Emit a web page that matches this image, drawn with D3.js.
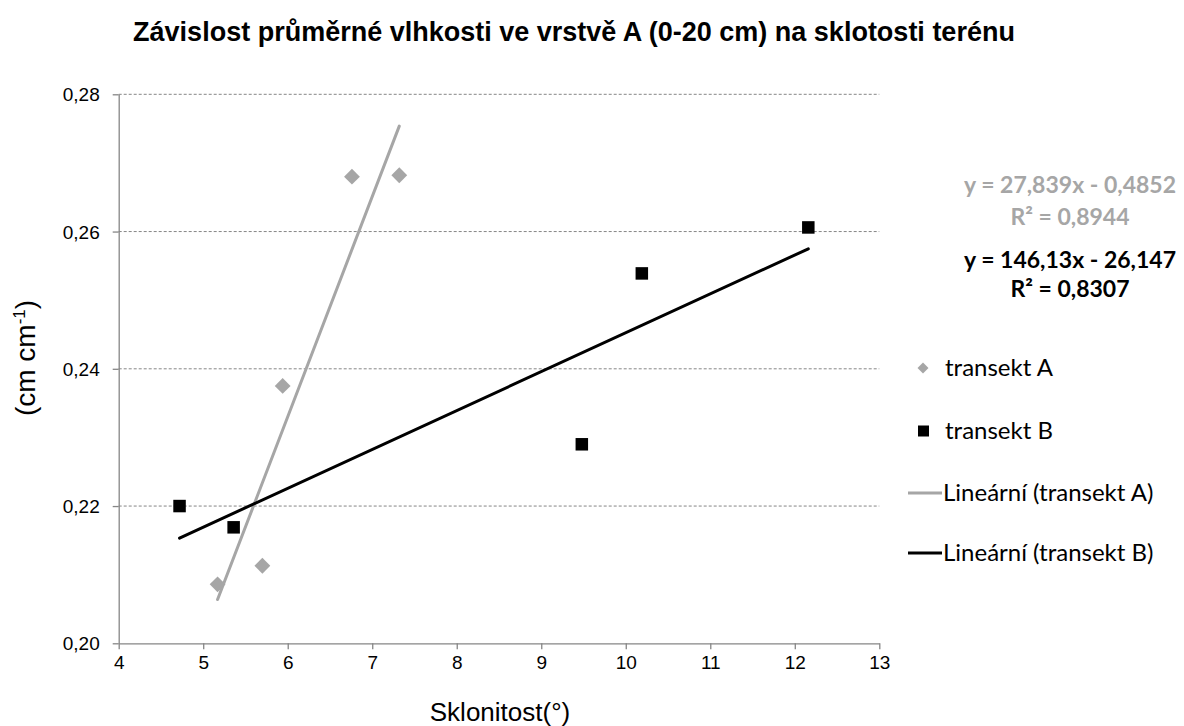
<!DOCTYPE html>
<html>
<head>
<meta charset="utf-8">
<script src="https://cdn.jsdelivr.net/npm/d3@7"></script>
<style>
  body { margin: 0; background: #fff; }
  svg { display: block; }
</style>
</head>
<body>
<svg id="chart" width="1184" height="726"></svg>
<script>
/*
# scatter of soil moisture vs. slope, two transects with linear trendlines
*/
var slopeA = [5.17, 5.70, 5.94, 6.76, 7.32];
var moistA = [0.2086, 0.2113, 0.2375, 0.2680, 0.2682];
var slopeB = [4.72, 5.36, 9.48, 10.19, 12.16];
var moistB = [0.2200, 0.2169, 0.2290, 0.2539, 0.2606];

var xTicks = [4, 5, 6, 7, 8, 9, 10, 11, 12, 13];
var yTicks = [0.20, 0.22, 0.24, 0.26, 0.28];

var seriesNames = ["transekt A", "transekt B", "Lineární (transekt A)", "Lineární (transekt B)"];
var eqA = ["y = 27,839x - 0,4852", "R² = 0,8944"];
var eqB = ["y = 146,13x - 26,147", "R² = 0,8307"];

var grayCol = "#a6a6a6";
var axisCol = "#868686";
var arial = "'Liberation Sans', Arial, sans-serif";
var calibri = "Lato, 'Open Sans', sans-serif";

var svg = d3.select("#chart");
var plotL = 118.7, plotR = 879.3, plotT = 94.3, plotB = 643.3;

var x = d3.scaleLinear().domain([4, 13]).range([plotL, plotR]);
var y = d3.scaleLinear().domain([0.20, 0.28]).range([plotB, plotT]);

var fmt = function(v) { return d3.format(".2f")(v).replace(".", ","); };

// least squares line over the data range
function fit(xs, ys) {
  var mx = d3.mean(xs), my = d3.mean(ys), sxy = 0, sxx = 0;
  for (var i = 0; i < xs.length; i++) {
    sxy += (xs[i] - mx) * (ys[i] - my);
    sxx += (xs[i] - mx) * (xs[i] - mx);
  }
  var b = sxy / sxx, a = my - b * mx;
  var x0 = d3.min(xs), x1 = d3.max(xs);
  return [[x0, a + b * x0], [x1, a + b * x1]];
}

// gridlines
svg.append("g").selectAll("line").data(yTicks.slice(1)).enter().append("line")
  .attr("x1", plotL).attr("x2", plotR)
  .attr("y1", function(d) { return y(d); }).attr("y2", function(d) { return y(d); })
  .attr("stroke", axisCol).attr("stroke-width", 1).attr("stroke-dasharray", "3,2");

// axes
var xAxis = d3.axisBottom(x).tickValues(xTicks).tickSize(6).tickSizeOuter(0).tickFormat(d3.format("d"));
var gx = svg.append("g").attr("transform", "translate(0," + plotB + ")").call(xAxis);
gx.select(".domain").attr("stroke", axisCol).attr("stroke-width", 1.3);
gx.selectAll(".tick line").attr("stroke", axisCol).attr("stroke-width", 1.3);
gx.selectAll(".tick text").style("font-family", arial).style("font-size", "19px").attr("fill", "#000")
  .attr("y", 12).attr("dy", "0.71em");

var yAxis = d3.axisLeft(y).tickValues(yTicks).tickSize(6).tickSizeOuter(0).tickFormat(fmt);
var gy = svg.append("g").attr("transform", "translate(" + plotL + ",0)").call(yAxis);
gy.select(".domain").attr("stroke", axisCol).attr("stroke-width", 1.3);
gy.selectAll(".tick line").attr("stroke", axisCol).attr("stroke-width", 1.3);
gy.selectAll(".tick text").style("font-family", arial).style("font-size", "19px").attr("fill", "#000")
  .attr("x", -19).attr("dy", "0.35em");

// trendlines
var line = d3.line().x(function(d) { return x(d[0]); }).y(function(d) { return y(d[1]); });
svg.append("path").datum(fit(slopeA, moistA)).attr("d", line)
  .attr("stroke", grayCol).attr("stroke-width", 3).attr("stroke-linecap", "round").attr("fill", "none");
svg.append("path").datum(fit(slopeB, moistB)).attr("d", line)
  .attr("stroke", "#000").attr("stroke-width", 3).attr("stroke-linecap", "round").attr("fill", "none");

// points
var diamond = d3.symbol().type(d3.symbolSquare).size(125);
svg.append("g").selectAll("path").data(d3.zip(slopeA, moistA)).enter().append("path")
  .attr("d", diamond)
  .attr("transform", function(d) { return "translate(" + x(d[0]) + "," + y(d[1]) + ") rotate(45)"; })
  .attr("fill", grayCol);

var sq = 12.5;
svg.append("g").selectAll("rect").data(d3.zip(slopeB, moistB)).enter().append("rect")
  .attr("x", function(d) { return x(d[0]) - sq / 2; })
  .attr("y", function(d) { return y(d[1]) - sq / 2; })
  .attr("width", sq).attr("height", sq)
  .attr("fill", "#000");

// title
svg.append("text").attr("x", 574).attr("y", 41).attr("text-anchor", "middle")
  .style("font-family", arial).style("font-size", "27px").style("font-weight", "bold")
  .text("Závislost průměrné vlhkosti ve vrstvě A (0-20 cm) na sklotosti terénu");

// axis titles
svg.append("text").attr("x", 500).attr("y", 721).attr("text-anchor", "middle")
  .style("font-family", arial).style("font-size", "26px")
  .text("Sklonitost(°)");

var yt = svg.append("text").attr("transform", "translate(35,358) rotate(-90)").attr("text-anchor", "middle")
  .style("font-family", arial).style("font-size", "28px");
yt.append("tspan").text("(cm cm");
yt.append("tspan").attr("dy", -10).style("font-size", "17px").text("-1");
yt.append("tspan").attr("dy", 10).text(")");

// trendline equations
var eqs = svg.append("g").style("font-family", calibri)
  .style("font-weight", "bold").style("font-size", "23px").attr("text-anchor", "middle");
eqs.selectAll("text.a").data(eqA).enter().append("text")
  .attr("x", 1070).attr("y", function(d, i) { return 193 + i * 32; })
  .attr("fill", grayCol).text(function(d) { return d; });
eqs.selectAll("text.b").data(eqB).enter().append("text")
  .attr("x", 1070).attr("y", function(d, i) { return 268 + i * 29; })
  .attr("fill", "#000").text(function(d) { return d; });

// legend
var legY = [368, 431, 493, 553];
var lg = svg.append("g");
lg.append("path").attr("d", d3.symbol().type(d3.symbolSquare).size(60))
  .attr("transform", "translate(923," + legY[0] + ") rotate(45)").attr("fill", grayCol);
lg.append("rect").attr("x", 918).attr("y", legY[1] - 5.5).attr("width", 11).attr("height", 11).attr("fill", "#000");
lg.append("line").attr("x1", 908).attr("x2", 942).attr("y1", legY[2]).attr("y2", legY[2])
  .attr("stroke", grayCol).attr("stroke-width", 3);
lg.append("line").attr("x1", 908).attr("x2", 942).attr("y1", legY[3]).attr("y2", legY[3])
  .attr("stroke", "#000").attr("stroke-width", 3);
lg.selectAll("text").data(seriesNames).enter().append("text")
  .style("font-family", calibri).style("font-size", "24px").attr("fill", "#000")
  .attr("x", function(d, i) { return i < 2 ? 945 : 943; })
  .attr("y", function(d, i) { return legY[i] + 8; })
  .text(function(d) { return d; });
</script>
</body>
</html>
